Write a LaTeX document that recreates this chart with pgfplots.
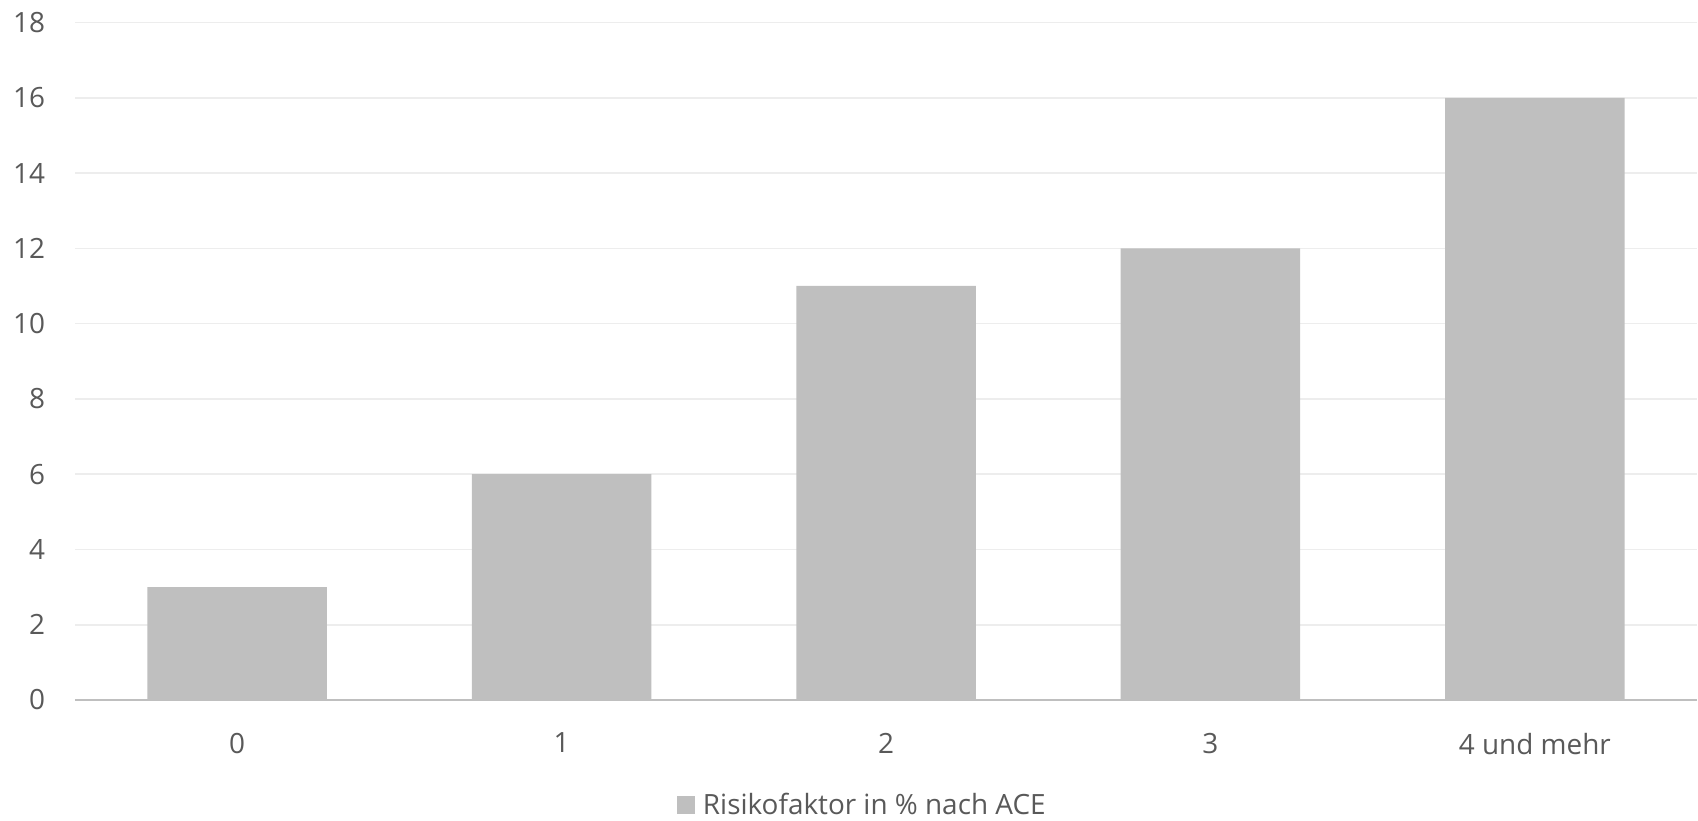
\documentclass[border=0pt]{standalone}
\usepackage{pgfplots}
\pgfplotsset{compat=1.18}
\usepackage{fontspec}
\setmainfont{Open Sans}
\definecolor{barc}{HTML}{BFBFBF}
\definecolor{txt}{HTML}{595959}
\definecolor{gridc}{HTML}{EDEDED}
\begin{document}
\begin{tikzpicture}
\begin{axis}[
  scale only axis,
  width=811bp, height=338.75bp,
  xmin=-0.5, xmax=4.5, ymin=0, ymax=18,
  ytick={0,2,...,18},
  xtick={0,1,2,3,4},
  xticklabels={0,1,2,3,4 und mehr},
  axis x line*=bottom,
  axis y line*=left,
  x axis line style={draw=barc, line width=1.2bp, -},
  y axis line style={draw=none, -},
  ymajorgrids,
  grid style={draw=gridc, line width=0.8bp},
  major tick length=0pt,
  tick style={draw=none},
  ticklabel style={font=\fontsize{14}{17}\selectfont, text=txt},
  /pgf/number format/assume math mode=true,
  yticklabel style={xshift=-11.5bp},
  xticklabel style={yshift=-13bp},
  ybar, bar width=89.75bp, bar shift=0pt,
  legend style={at={(0.486,-0.155)}, anchor=center, draw=none,
    font=\fontsize{14}{17}\selectfont, text=txt, fill=none,
    legend cell align=left},
  legend image code/.code={\fill[barc] (0bp,-4.5bp) rectangle (9bp,4.5bp);},
  clip=false,
]
\addplot[fill=barc, draw=none] coordinates {(0,3) (1,6) (2,11) (3,12) (4,16)};
\addlegendentry{\hspace{2bp}Risikofaktor in \% nach ACE}
\end{axis}
\pgfresetboundingbox
\useasboundingbox (-37.5bp,-60.5bp) rectangle (811.5bp,350bp);
\end{tikzpicture}
\end{document}
